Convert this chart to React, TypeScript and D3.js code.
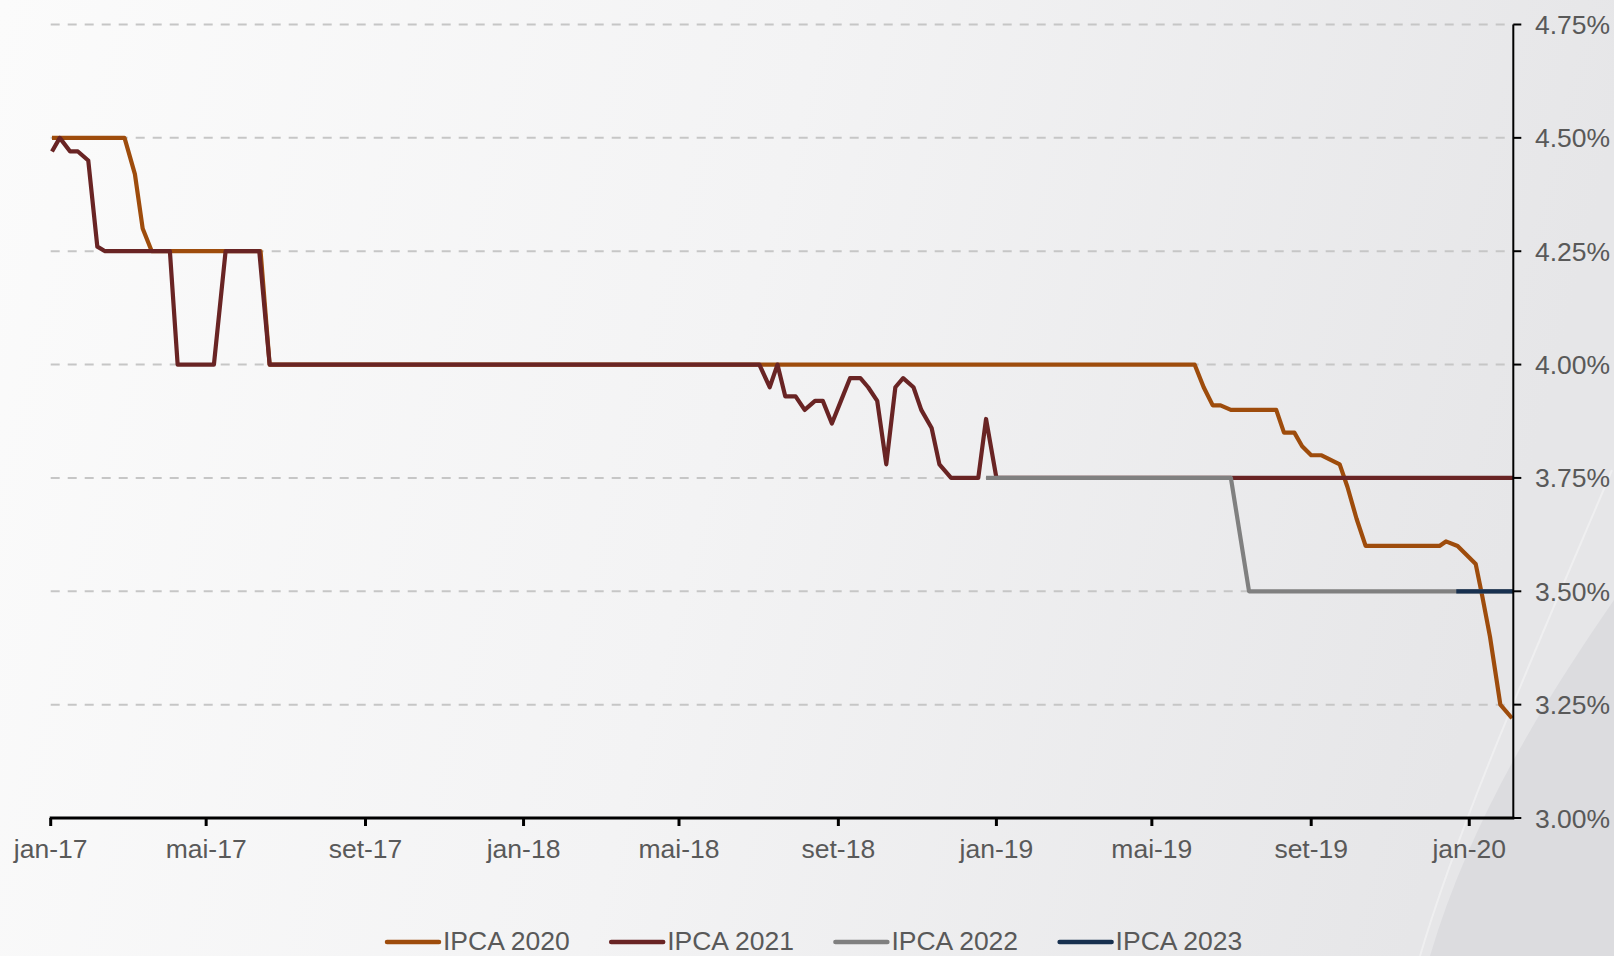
import React from 'react';
import * as d3 from 'd3';

const W = 1614;
const H = 956;

const seriesNames = ['IPCA 2020', 'IPCA 2021', 'IPCA 2022', 'IPCA 2023'];
const seriesColors = ['#9E4C0C', '#692424', '#808080', '#17304F'];

const ipca2020: [string, number][] = [
  ['2017-01-02', 4.5],
  ['2017-02-27', 4.5],
  ['2017-03-07', 4.42],
  ['2017-03-13', 4.3],
  ['2017-03-20', 4.25],
  ['2017-06-12', 4.25],
  ['2017-06-19', 4.0],
  ['2019-06-03', 4.0],
  ['2019-06-10', 3.95],
  ['2019-06-17', 3.91],
  ['2019-06-23', 3.91],
  ['2019-07-01', 3.9],
  ['2019-08-05', 3.9],
  ['2019-08-11', 3.85],
  ['2019-08-19', 3.85],
  ['2019-08-25', 3.82],
  ['2019-09-01', 3.8],
  ['2019-09-09', 3.8],
  ['2019-09-16', 3.79],
  ['2019-09-23', 3.78],
  ['2019-09-29', 3.73],
  ['2019-10-06', 3.66],
  ['2019-10-13', 3.6],
  ['2019-12-09', 3.6],
  ['2019-12-14', 3.61],
  ['2019-12-23', 3.6],
  ['2019-12-30', 3.58],
  ['2020-01-06', 3.56],
  ['2020-01-11', 3.49],
  ['2020-01-17', 3.4],
  ['2020-01-25', 3.25],
  ['2020-02-03', 3.22],
];

const ipca2021: [string, number][] = [
  ['2017-01-02', 4.47],
  ['2017-01-08', 4.5],
  ['2017-01-16', 4.47],
  ['2017-01-22', 4.47],
  ['2017-01-30', 4.45],
  ['2017-02-06', 4.26],
  ['2017-02-12', 4.25],
  ['2017-04-03', 4.25],
  ['2017-04-09', 4.0],
  ['2017-05-07', 4.0],
  ['2017-05-16', 4.25],
  ['2017-06-11', 4.25],
  ['2017-06-19', 4.0],
  ['2018-07-02', 4.0],
  ['2018-07-10', 3.95],
  ['2018-07-16', 4.0],
  ['2018-07-22', 3.93],
  ['2018-07-30', 3.93],
  ['2018-08-06', 3.9],
  ['2018-08-14', 3.92],
  ['2018-08-20', 3.92],
  ['2018-08-27', 3.87],
  ['2018-09-03', 3.92],
  ['2018-09-10', 3.97],
  ['2018-09-18', 3.97],
  ['2018-09-24', 3.95],
  ['2018-10-01', 3.92],
  ['2018-10-08', 3.78],
  ['2018-10-15', 3.95],
  ['2018-10-21', 3.97],
  ['2018-10-29', 3.95],
  ['2018-11-04', 3.9],
  ['2018-11-12', 3.86],
  ['2018-11-18', 3.78],
  ['2018-11-27', 3.75],
  ['2018-12-18', 3.75],
  ['2018-12-24', 3.88],
  ['2019-01-01', 3.75],
  ['2020-02-04', 3.75],
];

const ipca2022: [string, number][] = [
  ['2018-12-24', 3.75],
  ['2019-07-01', 3.75],
  ['2019-07-15', 3.5],
  ['2020-02-04', 3.5],
];

const ipca2023: [string, number][] = [
  ['2019-12-22', 3.5],
  ['2020-02-04', 3.5],
];

const allSeries = [ipca2020, ipca2021, ipca2022, ipca2023];

const yTicks = [3.0, 3.25, 3.5, 3.75, 4.0, 4.25, 4.5, 4.75];
const monthLabelsPt = ['jan', 'fev', 'mar', 'abr', 'mai', 'jun', 'jul', 'ago', 'set', 'out', 'nov', 'dez'];
const xDomain = ['2017-01-01', '2020-02-04'];

const FONT = '"Liberation Sans", Arial, sans-serif';
const TXT = '#595959';

export default function App() {
  const parse = d3.timeParse('%Y-%m-%d');
  const x = d3
    .scaleTime()
    .domain([parse(xDomain[0]) as Date, parse(xDomain[1]) as Date])
    .range([50.7, 1513.3]);
  const y = d3.scaleLinear().domain([3, 4.75]).range([818, 24.5]);
  const line = d3
    .line<[string, number]>()
    .x((d) => x(parse(d[0]) as Date))
    .y((d) => y(d[1]));

  const xTicks = d3.timeMonth.range(parse('2017-01-01') as Date, parse('2020-02-02') as Date, 4);
  const fmtX = (d: Date) => `${monthLabelsPt[d.getMonth()]}-${String(d.getFullYear()).slice(2)}`;

  const left = x.range()[0];
  const right = x.range()[1];
  const bottom = y.range()[0];
  const top = y.range()[1];

  return (
    <svg
      width={W}
      height={H}
      style={{ position: 'absolute', left: 0, top: 0, display: 'block' }}
      fontFamily={FONT}
    >
      <defs>
        <linearGradient id="bg" x1="0" y1="0" x2="1" y2="0.15">
          <stop offset="0" stopColor="#fbfbfb" />
          <stop offset="0.5" stopColor="#f3f3f4" />
          <stop offset="1" stopColor="#e6e6e8" />
        </linearGradient>
      </defs>
      <rect x={0} y={0} width={W} height={H} fill="url(#bg)" />
      <path d="M1614,600 C1545,700 1470,820 1430,956 L1614,956 Z" fill="#dcdcdf" />
      <path d="M1612,470 C1540,640 1460,820 1420,956" fill="none" stroke="#f2f2f3" strokeWidth={2} opacity={0.7} />

      {/* gridlines */}
      {yTicks
        .filter((t) => t > 3)
        .map((t) => (
          <line
            key={'g' + t}
            x1={left}
            x2={right}
            y1={y(t)}
            y2={y(t)}
            stroke="#c6c6c6"
            strokeWidth={2}
            strokeDasharray="9 8"
          />
        ))}

      {/* series */}
      {allSeries.map((s, i) => (
        <path
          key={seriesNames[i]}
          d={line(s) || ''}
          fill="none"
          stroke={seriesColors[i]}
          strokeWidth={4.2}
          strokeLinejoin="round"
        />
      ))}

      {/* right axis */}
      <line x1={right} x2={right} y1={top} y2={bottom} stroke="#000" strokeWidth={2} />
      {yTicks.map((t) => (
        <g key={'yt' + t}>
          <line x1={right} x2={right + 8} y1={y(t)} y2={y(t)} stroke="#000" strokeWidth={2} />
          <text x={1535} y={y(t) + 9.5} fontSize={26.5} fill={TXT}>
            {t.toFixed(2) + '%'}
          </text>
        </g>
      ))}

      {/* bottom axis */}
      <line x1={left - 1} x2={right + 1} y1={bottom} y2={bottom} stroke="#000" strokeWidth={3} />
      {xTicks.map((d) => (
        <g key={'xt' + d.getTime()}>
          <line x1={x(d)} x2={x(d)} y1={bottom} y2={bottom + 8} stroke="#000" strokeWidth={3} />
          <text x={x(d)} y={858} fontSize={26.5} fill={TXT} textAnchor="middle">
            {fmtX(d)}
          </text>
        </g>
      ))}

      {/* legend */}
      {seriesNames.map((n, i) => {
        const lx = 385 + i * 224.2;
        return (
          <g key={'lg' + n}>
            <line
              x1={lx + 2}
              x2={lx + 54}
              y1={942}
              y2={942}
              stroke={seriesColors[i]}
              strokeWidth={4.5}
              strokeLinecap="round"
            />
            <text x={lx + 58} y={949.5} fontSize={26.5} fill={TXT}>
              {n}
            </text>
          </g>
        );
      })}
    </svg>
  );
}
